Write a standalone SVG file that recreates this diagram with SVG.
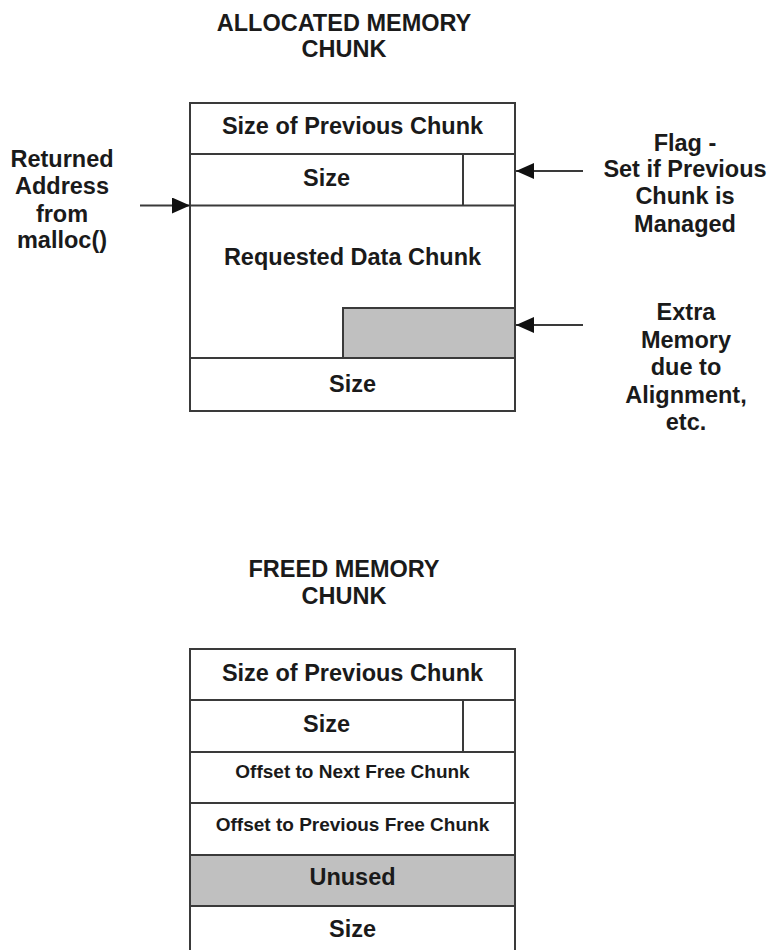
<svg xmlns="http://www.w3.org/2000/svg" width="769" height="950" viewBox="0 0 769 950">
  <style>
    .t { font-family: "Liberation Sans", Arial, sans-serif; font-weight: bold; fill: #1a1a1a; text-anchor: middle; font-size: 23.5px; }
    .s { font-size: 19px; }
    .box { fill: #ffffff; stroke: #3a3a3a; stroke-width: 2; }
    .gray { fill: #c0c0c0; stroke: #3a3a3a; stroke-width: 2; }
    .ln { stroke: #3a3a3a; stroke-width: 2; fill: none; }
    .conn { stroke: #3a3a3a; stroke-width: 2; fill: none; marker-end: url(#arrow); }
  </style>
  <defs>
    <marker id="arrow" viewBox="0 0 18 16" refX="18" refY="8" markerWidth="18" markerHeight="16" markerUnits="userSpaceOnUse" orient="auto">
      <path d="M0,0 L18,8 L0,16 Z" fill="#111111"/>
    </marker>
  </defs>
  <rect width="769" height="950" fill="#ffffff"/>

  <!-- Allocated chunk -->
  <g id="allocated-title">
    <text class="t" x="344" y="31">ALLOCATED MEMORY</text>
    <text class="t" x="344" y="57">CHUNK</text>
  </g>
  <g id="allocated-chunk">
    <rect class="box" x="190" y="103" width="325" height="308"/>
    <rect class="gray" x="343" y="308" width="172" height="50"/>
    <line class="ln" x1="190" y1="154" x2="515" y2="154"/>
    <line class="ln" x1="190" y1="205.5" x2="515" y2="205.5"/>
    <line class="ln" x1="463" y1="154" x2="463" y2="205.5"/>
    <line class="ln" x1="190" y1="358" x2="515" y2="358"/>
    <text class="t" x="352.5" y="134">Size of Previous Chunk</text>
    <text class="t" x="326.5" y="186">Size</text>
    <text class="t" x="352.5" y="265">Requested Data Chunk</text>
    <text class="t" x="352.5" y="392">Size</text>
  </g>

  <g id="label-returned">
    <text class="t" x="62" y="167">Returned</text>
    <text class="t" x="62" y="194">Address</text>
    <text class="t" x="62" y="222">from</text>
    <text class="t" x="62" y="248">malloc()</text>
  </g>
  <g id="label-flag">
    <text class="t" x="685" y="151">Flag -</text>
    <text class="t" x="685" y="177">Set if Previous</text>
    <text class="t" x="685" y="204">Chunk is</text>
    <text class="t" x="685" y="232">Managed</text>
  </g>
  <g id="label-extra">
    <text class="t" x="686" y="320">Extra</text>
    <text class="t" x="686" y="348">Memory</text>
    <text class="t" x="686" y="375">due to</text>
    <text class="t" x="686" y="403">Alignment,</text>
    <text class="t" x="686" y="430">etc.</text>
  </g>

  <g id="connectors">
    <line class="conn" x1="140" y1="205.5" x2="190" y2="205.5"/>
    <line class="conn" x1="583" y1="171" x2="516" y2="171"/>
    <line class="conn" x1="583" y1="325" x2="516" y2="325"/>
  </g>

  <!-- Freed chunk -->
  <g id="freed-title">
    <text class="t" x="344" y="577">FREED MEMORY</text>
    <text class="t" x="344" y="604">CHUNK</text>
  </g>
  <g id="freed-chunk">
    <rect class="box" x="190" y="649" width="325" height="320"/>
    <rect class="gray" x="190" y="855" width="325" height="51"/>
    <line class="ln" x1="190" y1="700" x2="515" y2="700"/>
    <line class="ln" x1="190" y1="752" x2="515" y2="752"/>
    <line class="ln" x1="463" y1="700" x2="463" y2="752"/>
    <line class="ln" x1="190" y1="803" x2="515" y2="803"/>
    <text class="t" x="352.5" y="681">Size of Previous Chunk</text>
    <text class="t" x="326.5" y="732">Size</text>
    <text class="t s" x="352.5" y="778">Offset to Next Free Chunk</text>
    <text class="t s" x="352.5" y="831">Offset to Previous Free Chunk</text>
    <text class="t" x="352.5" y="885">Unused</text>
    <text class="t" x="352.5" y="937">Size</text>
  </g>
</svg>
